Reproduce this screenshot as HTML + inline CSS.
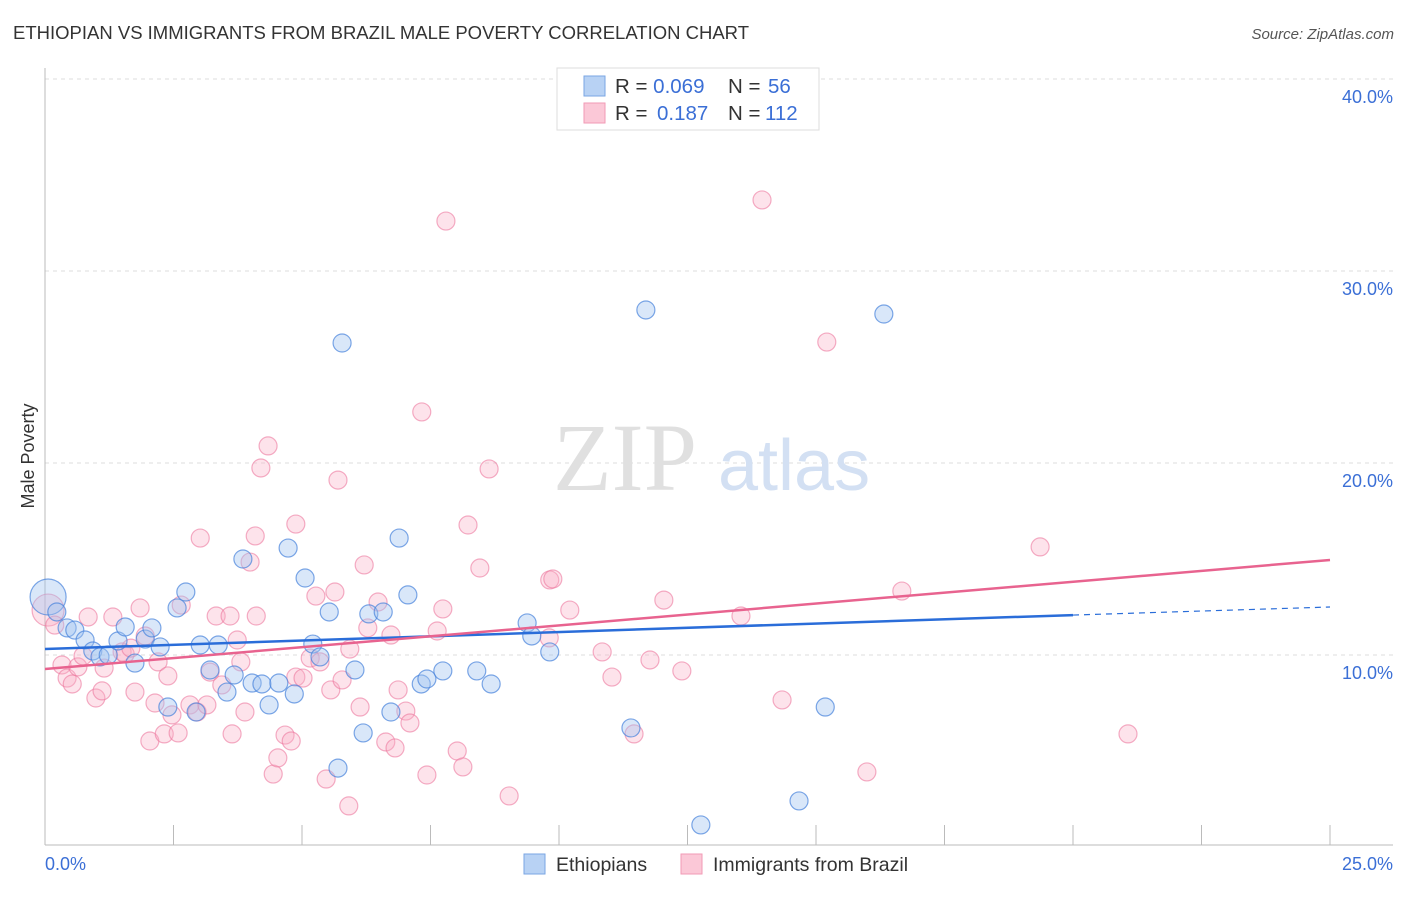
<!DOCTYPE html>
<html><head><meta charset="utf-8"><style>
body{margin:0;background:#fff;width:1406px;height:892px;overflow:hidden;font-family:"Liberation Sans",sans-serif}
</style></head><body>
<svg id="chart" width="1406" height="892" xmlns="http://www.w3.org/2000/svg" font-family="Liberation Sans, sans-serif">
<text x="13" y="39" font-size="18.5" fill="#333">ETHIOPIAN VS IMMIGRANTS FROM BRAZIL MALE POVERTY CORRELATION CHART</text>
<text x="1394" y="39" font-size="15" fill="#555" font-style="italic" text-anchor="end">Source: ZipAtlas.com</text>
<g id="grid"></g>
<text x="553" y="490" font-size="96" font-family="Liberation Serif, serif" fill="#e0e0e0">ZIP</text>
<text x="718" y="490" font-size="72" fill="#d3e0f3">atlas</text>
<g id="points"></g>
<g id="lines"></g>
<text transform="translate(34,456) rotate(-90)" font-size="18" fill="#333" text-anchor="middle">Male Poverty</text>
<text x="45" y="870" font-size="18" fill="#3b6fd6">0.0%</text>
<text x="1393" y="870" font-size="18" fill="#3b6fd6" text-anchor="end">25.0%</text>
<g>
<rect x="557" y="68" width="262" height="62" fill="#fff" stroke="#ddd"/>
<rect x="584" y="76" width="21" height="20" fill="#b8d2f4" stroke="#7aa6e3"/>
<rect x="584" y="103" width="21" height="20" fill="#fbc8d7" stroke="#f19ab5"/>
<text x="615" y="93" font-size="20.5" fill="#333">R = <tspan fill="#3b6fd6">0.069</tspan></text>
<text x="728" y="93" font-size="20.5" fill="#333">N = </text><text x="768" y="93" font-size="20.5" fill="#3b6fd6">56</text>
<text x="615" y="120" font-size="20.5" fill="#333">R = </text><text x="657" y="120" font-size="20.5" fill="#3b6fd6">0.187</text>
<text x="728" y="120" font-size="20.5" fill="#333">N = </text><text x="765" y="120" font-size="20.5" fill="#3b6fd6">112</text>
</g>
<g>
<rect x="524" y="854" width="21" height="20" fill="#b8d2f4" stroke="#7aa6e3"/>
<text x="556" y="871" font-size="19.5" fill="#333">Ethiopians</text>
<rect x="681" y="854" width="21" height="20" fill="#fbc8d7" stroke="#f19ab5"/>
<text x="713" y="871" font-size="19.5" fill="#333">Immigrants from Brazil</text>
</g>
</svg>
<script>
const yTicks=[10,20,30,40];
const yTickLabels=["10.0%","20.0%","30.0%","40.0%"];
const xTicks=[0,2.5,5,7.5,10,12.5,15,17.5,20,22.5,25];
const blueX=[0.06,0.23,0.43,0.58,0.78,0.93,1.07,1.23,1.42,1.56,1.75,1.95,2.08,2.24,2.39,2.57,2.74,2.94,3.02,3.21,3.37,3.54,3.68,3.85,4.03,4.22,4.36,4.55,4.73,4.85,5.06,5.21,5.35,5.53,5.70,5.78,6.03,6.19,6.30,6.58,6.73,6.89,7.06,7.32,7.43,7.74,8.40,8.68,9.38,9.47,9.82,11.40,11.69,12.76,14.67,15.18,16.32];
const blueY=[13.02,12.24,11.41,11.30,10.78,10.21,9.90,10.00,10.73,11.46,9.58,10.83,11.41,10.42,7.29,12.45,13.28,7.03,10.52,9.22,10.52,8.07,8.96,15.00,8.54,8.49,7.40,8.54,15.57,7.97,14.01,10.57,9.90,12.24,4.11,26.25,9.22,5.94,12.14,12.24,7.03,16.09,13.13,8.49,8.75,9.17,9.17,8.49,11.67,10.99,10.16,6.20,27.97,1.15,2.40,7.29,27.76];
const pinkX=[0.06,0.19,0.33,0.43,0.53,0.64,0.74,0.84,0.99,1.11,1.15,1.32,1.50,1.56,1.67,1.75,1.85,1.95,2.04,2.14,2.20,2.32,2.39,2.47,2.59,2.65,2.82,2.96,3.02,3.15,3.21,3.33,3.44,3.60,3.64,3.74,3.81,3.89,3.99,4.09,4.11,4.20,4.34,4.44,4.53,4.67,4.79,4.88,4.88,5.02,5.16,5.27,5.35,5.47,5.56,5.64,5.70,5.78,5.91,5.93,6.13,6.21,6.28,6.48,6.63,6.73,6.81,6.87,7.02,7.10,7.33,7.43,7.63,7.74,7.80,8.02,8.13,8.23,8.46,8.64,9.03,9.82,9.88,9.81,10.21,10.84,11.03,11.46,11.77,12.04,12.39,13.54,13.95,14.34,15.21,15.99,16.67,19.36,21.07];
const pinkY=[12.34,11.56,9.48,8.80,8.49,9.38,9.95,11.98,7.76,8.13,9.32,11.98,10.16,10.05,10.36,8.07,12.45,10.99,5.52,7.50,9.64,5.89,8.91,6.88,5.94,12.60,7.40,7.03,16.09,7.40,9.11,12.03,8.44,12.03,5.89,10.78,9.64,7.03,14.84,16.20,12.03,19.74,20.89,3.80,4.64,5.83,5.52,16.82,8.85,8.80,9.84,13.07,9.64,3.54,8.18,13.28,19.11,8.70,2.14,10.31,7.29,14.69,11.41,12.76,5.47,11.04,5.16,8.18,7.08,6.46,22.66,3.75,11.25,12.40,32.60,5.00,4.17,16.77,14.53,19.69,2.66,13.91,13.96,10.89,12.34,10.16,8.85,5.89,9.74,12.86,9.17,12.03,33.70,7.66,26.30,3.91,13.33,15.63,5.89];
const blueTrend=[10.31,12.08,12.5]; // at x=0,20,25
const pinkTrend=[9.27,14.95]; // at x=0,25
const NS="http://www.w3.org/2000/svg";
const sx=v=>45+v*51.4, sy=v=>847-v*19.2;
function mk(t,a,p){const e=document.createElementNS(NS,t);for(const k in a)e.setAttribute(k,a[k]);p.appendChild(e);return e;}
const grid=document.getElementById('grid');
yTicks.forEach((t,i)=>{
 const l=mk('line',{x1:45,x2:1393,y1:sy(t),y2:sy(t),stroke:'#ddd','stroke-dasharray':'4,4'},grid);
 
 
 const tx=mk('text',{x:1393,y:sy(t)+24,'font-size':18,fill:'#3b6fd6','text-anchor':'end'},grid);
 tx.textContent=yTickLabels[i];
 
 
});
const ax=mk('line',{x1:45,x2:45,y1:68,y2:845,stroke:'#bbb'},grid);


const bx=mk('line',{x1:45,x2:1393,y1:845,y2:845,stroke:'#bbb'},grid);


xTicks.forEach(t=>{const l=mk('line',{x1:sx(t),x2:sx(t),y1:825,y2:845,stroke:'#bbb'},grid);
 
 });
const pts=document.getElementById('points');
pinkX.forEach((x,i)=>{const c=mk('circle',{cx:sx(x),cy:sy(pinkY[i]),r:i===0?16:9,fill:'rgba(248,175,198,0.35)',stroke:'rgba(236,120,158,0.6)','stroke-width':1.2},pts);
 
 });
blueX.forEach((x,i)=>{const c=mk('circle',{cx:sx(x),cy:sy(blueY[i]),r:i===0?18:9,fill:'rgba(160,196,240,0.4)',stroke:'rgba(70,130,220,0.7)','stroke-width':1.2},pts);
 
 });
const ln=document.getElementById('lines');
const b1=mk('line',{x1:sx(0),y1:sy(blueTrend[0]),x2:sx(20),y2:sy(blueTrend[1]),stroke:'#2a6dd9','stroke-width':2.5},ln);


const b2=mk('line',{x1:sx(20),y1:sy(blueTrend[1]),x2:sx(25),y2:sy(blueTrend[2]),stroke:'#2a6dd9','stroke-width':1.2,'stroke-dasharray':'6,5'},ln);


const p1=mk('line',{x1:sx(0),y1:sy(pinkTrend[0]),x2:sx(25),y2:sy(pinkTrend[1]),stroke:'#e8638f','stroke-width':2.5},ln);


</script>
</body></html>
